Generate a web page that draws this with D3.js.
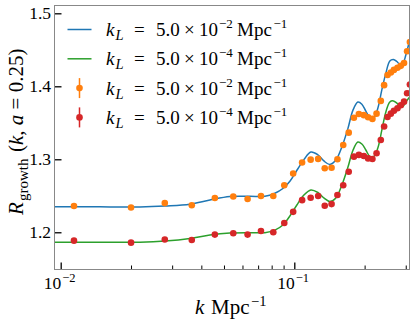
<!DOCTYPE html>
<html><head><meta charset="utf-8">
<script src="https://cdn.jsdelivr.net/npm/d3@7"></script>
<style>
body{margin:0;background:#fff;}
text{font-family:"Liberation Serif","DejaVu Serif",serif;fill:#000;}
</style></head>
<body><svg id="c" width="415" height="323"></svg>
<script>
// ---- data ----
const curveK = [0.00941,0.01210,0.01626,0.02184,0.02795,0.03575,0.04353,0.05303,0.06457,0.07482,0.08260,0.08938,0.09576,0.10259,0.10991,0.11776,0.12618,0.13383,0.14196,0.15066,0.15985,0.16960,0.17816,0.18714,0.19466,0.20245,0.21060,0.21906,0.22784,0.23699,0.24660,0.25644,0.26549,0.27479,0.28297,0.29150,0.30025,0.31130];
const curveHigh = [1.2351,1.2350,1.2348,1.2347,1.2360,1.2384,1.2442,1.2490,1.2493,1.2493,1.2535,1.2600,1.2700,1.2850,1.2995,1.3100,1.3062,1.2977,1.2930,1.2990,1.3170,1.3420,1.3670,1.3785,1.3755,1.3660,1.3575,1.3570,1.3700,1.3950,1.4180,1.4347,1.4367,1.4340,1.4300,1.4310,1.4430,1.4620];
const curveLow  = [1.1863,1.1863,1.1863,1.1864,1.1880,1.1915,1.1963,1.1990,1.1995,1.1995,1.2030,1.2100,1.2223,1.2374,1.2510,1.2580,1.2545,1.2470,1.2422,1.2470,1.2648,1.2890,1.3120,1.3236,1.3210,1.3127,1.3040,1.3040,1.3155,1.3400,1.3648,1.3785,1.3800,1.3770,1.3730,1.3720,1.3785,1.3850];
const pointK = [0.0114,0.0200,0.0279,0.0364,0.0457,0.0548,0.0631,0.0720,0.0813,0.0906,0.0989,0.1080,0.1175,0.1265,0.1350,0.1444,0.1530,0.1620,0.1710,0.1800,0.1890,0.1985,0.2070,0.2160,0.2250,0.2346,0.2424,0.2507,0.2590,0.2670,0.2765,0.2857,0.2950,0.3040,0.3125];
const pointsHigh = [1.2360,1.2340,1.2400,1.2370,1.2470,1.2490,1.2456,1.2497,1.2497,1.2645,1.2805,1.2957,1.2995,1.3005,1.2877,1.2885,1.3000,1.3196,1.3365,1.3570,1.3620,1.3605,1.3575,1.3553,1.3625,1.3800,1.4016,1.4155,1.4190,1.4225,1.4255,1.4280,1.4320,1.4480,1.4607];
const pointsLow  = [1.1885,1.1858,1.1900,1.1895,1.1968,1.1986,1.1968,1.2018,1.2000,1.2128,1.2280,1.2440,1.2474,1.2497,1.2364,1.2386,1.2511,1.2645,1.2830,1.3036,1.3060,1.3045,1.3012,1.3004,1.3082,1.3264,1.3450,1.3580,1.3625,1.3666,1.3700,1.3740,1.3790,1.3905,1.4025];
const yTicks = [1.2,1.3,1.4,1.5];
const xMajor = [0.01,0.1];
const xMajorLabels = [["10","\u22122"],["10","\u22121"]];
const xMinor = [0.02,0.03,0.04,0.05,0.06,0.07,0.08,0.09,0.2,0.3];
const legendItems = [
  {type:"line", color:"#1f77b4", exp:"\u22122"},
  {type:"line", color:"#2ca02c", exp:"\u22124"},
  {type:"point", color:"#ff7f0e", exp:"\u22122"},
  {type:"point", color:"#d62728", exp:"\u22124"}
];

// ---- layout ----
const L=54.5, R=409.5, T=5.5, B=269.5;
const svg = d3.select("#c");
const x = d3.scaleLog().domain([0.009407,0.3113]).range([L,R]);
const y = d3.scaleLinear().domain([1.149,1.5107]).range([B,T]);

svg.append("defs").append("clipPath").attr("id","clip")
  .append("rect").attr("x",L).attr("y",T).attr("width",R-L).attr("height",B-T);

const plot = svg.append("g").attr("clip-path","url(#clip)");
const line = d3.line().x(d=>x(d[0])).y(d=>y(d[1])).curve(d3.curveCatmullRom.alpha(0.5));
plot.append("path").datum(curveK.map((k,i)=>[k,curveHigh[i]]))
  .attr("d",line).attr("fill","none").attr("stroke","#1f77b4").attr("stroke-width",1.5);
plot.append("path").datum(curveK.map((k,i)=>[k,curveLow[i]]))
  .attr("d",line).attr("fill","none").attr("stroke","#2ca02c").attr("stroke-width",1.5);
plot.selectAll("circle.h").data(pointK.map((k,i)=>[k,pointsHigh[i]])).enter()
  .append("circle").attr("class","h").attr("cx",d=>x(d[0])).attr("cy",d=>y(d[1])).attr("r",3.3).attr("fill","#ff7f0e");
plot.selectAll("circle.l").data(pointK.map((k,i)=>[k,pointsLow[i]])).enter()
  .append("circle").attr("class","l").attr("cx",d=>x(d[0])).attr("cy",d=>y(d[1])).attr("r",3.3).attr("fill","#d62728");

// ---- axes ----
const gx = svg.append("g").attr("transform",`translate(0,${B})`)
  .call(d3.axisBottom(x).tickValues(xMajor).tickSize(-7).tickFormat(""));
gx.select(".domain").remove();
gx.selectAll(".tick line").attr("stroke","#000").attr("stroke-width",1.3);
const gxm = svg.append("g").attr("transform",`translate(0,${B})`)
  .call(d3.axisBottom(x).tickValues(xMinor).tickSize(-4).tickFormat(""));
gxm.select(".domain").remove();
gxm.selectAll(".tick line").attr("stroke","#000").attr("stroke-width",1);
const gy = svg.append("g").attr("transform",`translate(${L},0)`)
  .call(d3.axisLeft(y).tickValues(yTicks).tickSize(-7).tickFormat(""));
gy.select(".domain").remove();
gy.selectAll(".tick line").attr("stroke","#000").attr("stroke-width",1.3);

svg.append("rect").attr("x",L).attr("y",T).attr("width",R-L).attr("height",B-T)
  .attr("fill","none").attr("stroke","#888").attr("stroke-width",1);

// tick labels
const FS = 17.5;
yTicks.forEach(v=>{
  svg.append("text").attr("x",L-3.5).attr("y",y(v)+6).attr("text-anchor","end")
    .attr("font-size",FS).text(d3.format(".1f")(v));
});
xMajor.forEach((v,i)=>{
  const t = svg.append("text").attr("x",x(v)-17).attr("y",289).attr("font-size",FS);
  t.append("tspan").text(xMajorLabels[i][0]);
  t.append("tspan").attr("dx",1).attr("dy",-7.5).attr("font-size",12.5).text(xMajorLabels[i][1]);
});

// axis labels
const xl = svg.append("text").attr("y",314).attr("font-size",21);
xl.append("tspan").attr("x",195).attr("font-style","italic").text("k");
xl.append("tspan").attr("x",211).text("Mpc");
xl.append("tspan").attr("x",251).attr("dy",-8.5).attr("font-size",14.5).text("\u22121");

const yl = svg.append("text").attr("transform","translate(23,0) rotate(-90)").attr("font-size",21);
yl.append("tspan").attr("x",-215).attr("font-style","italic").text("R");
yl.append("tspan").attr("x",-201).attr("dy",4.5).attr("font-size",15).text("growth");
yl.append("tspan").attr("x",-152).attr("dy",-4.5).text("(");
yl.append("tspan").attr("font-style","italic").text("k");
yl.append("tspan").text(", ");
yl.append("tspan").attr("font-style","italic").text("a");
yl.append("tspan").text(" = 0.25)");

// legend
legendItems.forEach((it,i)=>{
  const cy = 29.5 + i*29.3;
  if(it.type==="line"){
    svg.append("line").attr("x1",67.5).attr("x2",91.5).attr("y1",cy).attr("y2",cy)
      .attr("stroke",it.color).attr("stroke-width",1.5);
  } else {
    svg.append("line").attr("x1",79.5).attr("x2",79.5).attr("y1",cy-10).attr("y2",cy+10)
      .attr("stroke",it.color).attr("stroke-width",1.5);
    svg.append("circle").attr("cx",79.5).attr("cy",cy).attr("r",3.3).attr("fill",it.color);
  }
  const t = svg.append("text").attr("y",cy+6.5).attr("font-size",19);
  t.append("tspan").attr("x",106).attr("font-style","italic").text("k");
  t.append("tspan").attr("x",115.5).attr("dy",4).attr("font-size",14.5).attr("font-style","italic").text("L");
  t.append("tspan").attr("x",134).attr("dy",-4).text("=");
  t.append("tspan").attr("x",156).text("5.0");
  t.append("tspan").attr("x",184).text("\u00d7");
  t.append("tspan").attr("x",199).text("10");
  t.append("tspan").attr("x",219).attr("dy",-8).attr("font-size",13).text(it.exp);
  t.append("tspan").attr("x",237).attr("dy",8).text("Mpc");
  t.append("tspan").attr("x",273.5).attr("dy",-8).attr("font-size",13).text("\u22121");
});
</script></body></html>
